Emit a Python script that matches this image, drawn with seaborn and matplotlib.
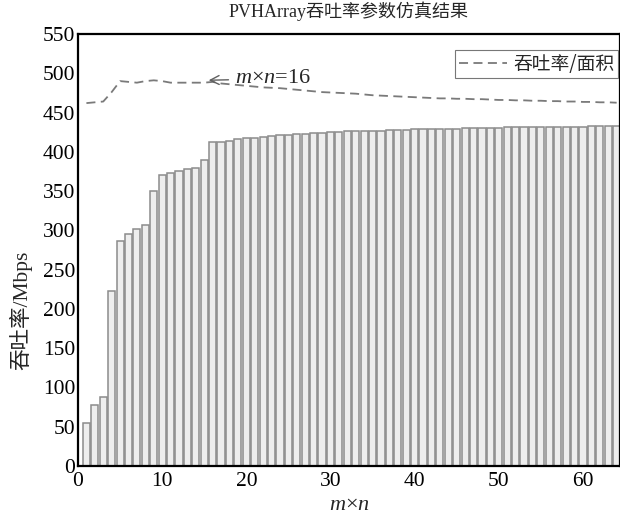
import numpy as np
import pandas as pd
import matplotlib
matplotlib.use("Agg")
import matplotlib.pyplot as plt
import seaborn as sns

# ---- data ----
mn = list(range(1, 65))
throughput = [55, 78, 88, 223, 287, 295, 302, 307, 350, 370,
              373, 376, 378, 380, 390, 412, 413, 414, 416, 417,
              418, 419, 420, 421, 422, 422.5, 423, 424, 424.5, 425,
              425.5, 426, 426, 426.5, 427, 427, 427.5, 428, 428, 428.5,
              428.5, 429, 429, 429.5, 429.5, 430, 430, 430, 430.5, 430.5,
              431, 431, 431, 431.5, 431.5, 431.5, 432, 432, 432, 432,
              432.5, 432.5, 433, 433]
per_area = [462, 463, 464, 476, 490, 489, 488, 490, 491, 490,
            488, 488, 488, 488, 488, 489, 487, 486, 485, 484,
            483, 482, 481.5, 481, 480, 479, 478, 477, 476, 475.5,
            475, 474.5, 474, 473, 472, 471.5, 471, 470.5, 470, 469.5,
            469, 468.5, 468, 468, 467.5, 467.5, 467, 467, 466.5, 466,
            466, 465.5, 465.5, 465, 465, 464.5, 464.5, 464, 464, 463.5,
            463.5, 463, 463, 462.5]
x_ticks = [0, 10, 20, 30, 40, 50, 60]
y_ticks = list(range(0, 551, 50))
title = "PVHArray吞吐率参数仿真结果"
ylabel = "吞吐率/Mbps"
legend_label = "吞吐率/面积"
annot_x, annot_y = 16, per_area[15]

df = pd.DataFrame({"mn": mn, "throughput": throughput, "per_area": per_area})

sns.set_theme(style="white")
plt.rcParams["font.family"] = ["Liberation Serif", "Noto Sans CJK SC"]
plt.rcParams["mathtext.fontset"] = "custom"
plt.rcParams["mathtext.rm"] = "Liberation Serif"
plt.rcParams["mathtext.it"] = "Liberation Serif:italic"

fig = plt.figure(figsize=(6.2, 5.14), dpi=100)
ax = fig.add_axes([0.1258, 0.0934, 0.8742, 0.8405])

sns.barplot(data=df, x="mn", y="throughput", native_scale=True, ax=ax,
            color="#eeeeee", edgecolor="#8c8c8c", linewidth=1.1,
            width=0.85, saturation=1)
sns.lineplot(data=df, x="mn", y="per_area", ax=ax, color="#7a7a7a",
             linewidth=1.3, label=legend_label)
ax.lines[-1].set_dashes([5, 3])

ax.annotate("$m$×$n$=16", xy=(annot_x - 0.8, annot_y + 2),
            xytext=(annot_x + 2.6, annot_y + 4), fontsize=16,
            va="center", ha="left",
            arrowprops=dict(arrowstyle="->", color="#606060", lw=1.0))

ax.set_xlim(0, 64.4)
ax.set_ylim(0, 550)
ax.set_xticks(x_ticks)
ax.set_yticks(y_ticks)
ax.tick_params(axis="both", direction="in", length=5, width=1.2,
               labelsize=15.5, colors="black", pad=2)
ax.tick_params(axis="x", length=0, pad=4)
for s in ax.spines.values():
    s.set_color("black")
    s.set_linewidth(1.6)

ax.set_title(title, fontsize=13, pad=12)
ax.set_xlabel("$m$×$n$", fontsize=16, labelpad=4)
ax.set_ylabel(ylabel, fontsize=15.5, labelpad=2)
ax.yaxis.set_label_coords(-0.085, 0.36)

leg = ax.legend(loc="upper right", bbox_to_anchor=(0.996, 0.963),
                borderaxespad=0, fontsize=13.5, frameon=True,
                fancybox=False, handlelength=2.6, handletextpad=0.3,
                borderpad=0.2)
leg.get_frame().set_edgecolor("#555555")
leg.get_frame().set_linewidth(0.8)
for t in leg.get_texts():
    t.set_family(["Noto Sans CJK SC"])

fig.savefig("out.png", dpi=100)
